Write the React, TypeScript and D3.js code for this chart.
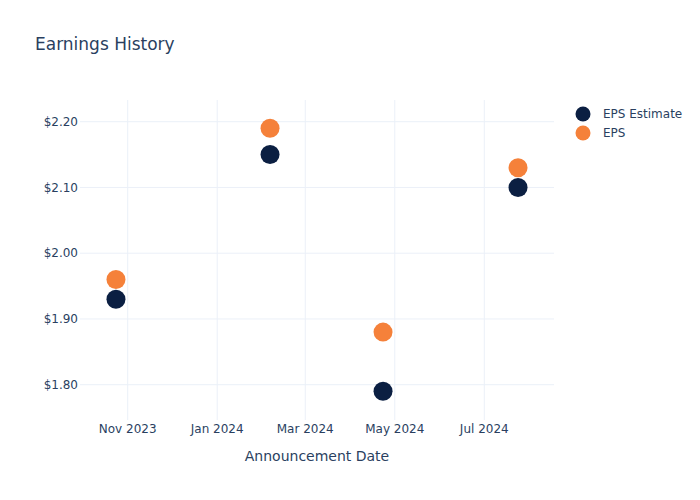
import React from "react";
import * as d3 from "d3";

const dates = ["2023-10-24", "2024-02-06", "2024-04-23", "2024-07-24"];
const epsEstimate = [1.93, 2.15, 1.79, 2.10];
const eps = [1.96, 2.19, 1.88, 2.13];
const yTicks = [1.8, 1.9, 2.0, 2.1, 2.2];
const xTicks = ["2023-11-01", "2024-01-01", "2024-03-01", "2024-05-01", "2024-07-01"];
const seriesNames = ["EPS Estimate", "EPS"];
const seriesColors = ["#0b1f42", "#f5813a"];

const W = 700, H = 500;
const L = 80, R = 554, T = 100, B = 420;
const FONT = "'DejaVu Sans', Verdana, sans-serif";
const TXT = "#2a3f5f";

export default function App() {
  const parse = d3.utcParse("%Y-%m-%d");
  const x = d3.scaleUtc()
    .domain([new Date(Date.UTC(2023, 8, 29, 12)), new Date(Date.UTC(2024, 7, 17, 12))])
    .range([L, R]);
  const y = d3.scaleLinear().domain([1.7463, 2.233]).range([B, T]);
  const fmtX = d3.utcFormat("%b %Y");
  const series = [epsEstimate, eps];
  return (
    <svg width={W} height={H} style={{ position: "absolute", left: 0, top: 0, fontFamily: FONT }}>
      <rect width={W} height={H} fill="#fff" />
      {xTicks.map((t) => {
        const px = x(parse(t)!);
        return <line key={"gx" + t} x1={px} x2={px} y1={T} y2={B} stroke="#ebf0f8" strokeWidth={1} />;
      })}
      {yTicks.map((t) => (
        <line key={"gy" + t} x1={L} x2={R} y1={y(t)} y2={y(t)} stroke="#ebf0f8" strokeWidth={1} />
      ))}
      {yTicks.map((t) => (
        <text key={"ty" + t} x={78} y={y(t)} dy="0.35em" textAnchor="end" fontSize={12} fill={TXT}>
          {"$" + t.toFixed(2)}
        </text>
      ))}
      {xTicks.map((t) => (
        <text key={"tx" + t} x={x(parse(t)!)} y={433} textAnchor="middle" fontSize={12} fill={TXT}>
          {fmtX(parse(t)!)}
        </text>
      ))}
      {series.map((vals, si) =>
        vals.map((v, i) => (
          <circle key={si + "-" + i} cx={x(parse(dates[i])!)} cy={y(v)} r={9.5} fill={seriesColors[si]} />
        ))
      )}
      <text x={35} y={50} fontSize={17} fill={TXT}>Earnings History</text>
      <text x={(L + R) / 2} y={461} textAnchor="middle" fontSize={14} fill={TXT}>Announcement Date</text>
      {seriesNames.map((n, i) => (
        <g key={n} transform={`translate(583, ${114 + i * 19})`}>
          <circle r={7.5} fill={seriesColors[i]} />
          <text x={20} dy="0.35em" fontSize={12} fill={TXT}>{n}</text>
        </g>
      ))}
    </svg>
  );
}
